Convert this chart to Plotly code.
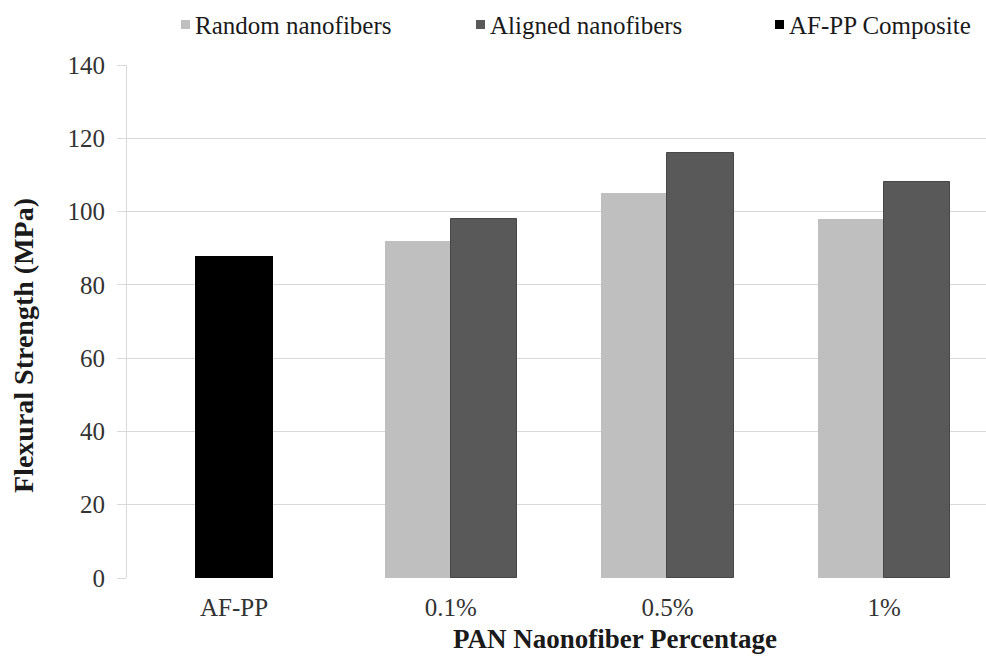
import plotly.graph_objects as go

# Flexural strength (MPa) by PAN nanofiber content
categories = ["AF-PP", "0.1%", "0.5%", "1%"]
random_nf = [None, 92, 105, 98]
aligned_nf = [None, 98, 116, 108]
afpp_comp = [88, None, None, None]
y_ticks = [0, 20, 40, 60, 80, 100, 120, 140]

series_names = ["Random nanofibers", "Aligned nanofibers", "AF-PP Composite"]
series_colors = ["#bfbfbf", "#595959", "#000000"]

FONT = "Liberation Serif, Times New Roman, serif"
W, H = 986, 657
ML, MR, MT, MB = 127, 0, 65, 79
PW, PH = W - ML - MR, H - MT - MB

xpos = list(range(len(categories)))

fig = go.Figure()
fig.add_trace(go.Bar(x=xpos, y=random_nf, name=series_names[0],
                     marker=dict(color=series_colors[0], line=dict(width=0)),
                     width=0.305, offset=-0.305, showlegend=False))
fig.add_trace(go.Bar(x=xpos, y=aligned_nf, name=series_names[1],
                     marker=dict(color=series_colors[1], line=dict(color="#474747", width=1)),
                     width=0.305, offset=0.0, showlegend=False))
fig.add_trace(go.Bar(x=xpos, y=afpp_comp, name=series_names[2],
                     marker=dict(color=series_colors[2], line=dict(width=0)),
                     width=0.36, offset=-0.18, showlegend=False))

# legend row drawn across the top
def px2paper_x(px):
    return (px - ML) / PW

def px2paper_y(py):
    return (H - MB - py) / PH

legend_sq = [181, 476, 775]
for name, col, sx in zip(series_names, series_colors, legend_sq):
    fig.add_shape(type="rect", xref="paper", yref="paper",
                  x0=px2paper_x(sx), x1=px2paper_x(sx + 9),
                  y0=px2paper_y(29), y1=px2paper_y(20),
                  fillcolor=col, line=dict(width=0))
    fig.add_annotation(text=name, xref="paper", yref="paper",
                       x=px2paper_x(sx + 12), y=px2paper_y(25),
                       xanchor="left", yanchor="middle", showarrow=False,
                       font=dict(family=FONT, size=25, color="#1a1a1a"))

# axis titles
fig.add_annotation(text="<b>PAN Naonofiber Percentage</b>", xref="paper", yref="paper",
                   x=px2paper_x(615), y=px2paper_y(639), xanchor="center", yanchor="middle",
                   showarrow=False, font=dict(family=FONT, size=27, color="#1a1a1a"))
fig.add_annotation(text="<b>Flexural Strength (MPa)</b>", xref="paper", yref="paper",
                   x=px2paper_x(23), y=px2paper_y(346), xanchor="center", yanchor="middle",
                   textangle=-90, showarrow=False,
                   font=dict(family=FONT, size=28, color="#1a1a1a"))

fig.update_layout(
    width=W, height=H,
    margin=dict(l=ML, r=MR, t=MT, b=MB),
    paper_bgcolor="white", plot_bgcolor="white",
    barmode="overlay",
    bargap=0,
    font=dict(family=FONT, size=25, color="#262626"),
    xaxis=dict(range=[-0.494, 3.47], tickmode="array", tickvals=xpos, ticktext=categories,
               showgrid=False, zeroline=False, showline=False, ticks="",
               ticklabelstandoff=12, tickfont=dict(family=FONT, size=25, color="#333333")),
    yaxis=dict(range=[0, 140], tickmode="array", tickvals=y_ticks,
               showgrid=True, gridcolor="#d9d9d9", gridwidth=1,
               zeroline=False, showline=True, linecolor="#d9d9d9", linewidth=1,
               ticks="outside", ticklen=9, tickcolor="#d9d9d9",
               ticklabelstandoff=7, tickfont=dict(family=FONT, size=25, color="#333333")),
)

fig.write_html("out.html")
